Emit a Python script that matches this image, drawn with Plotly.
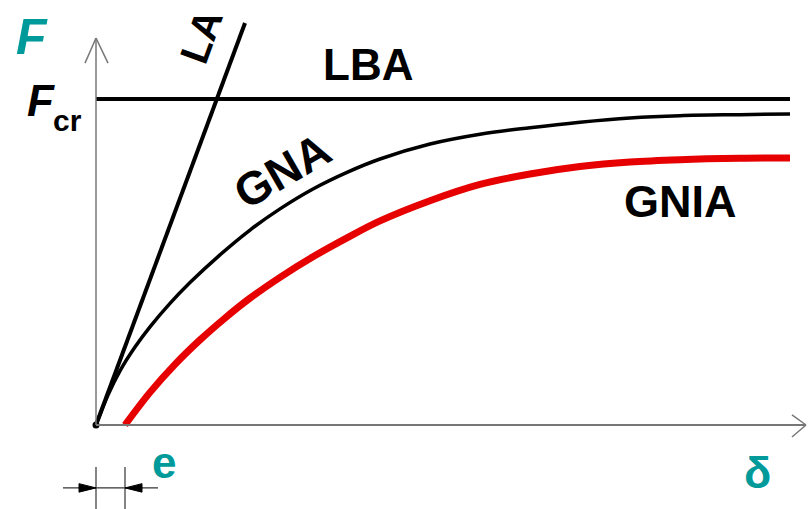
import plotly.graph_objects as go

# ---- data (delta, F/Fcr) ----
gna_x = [0.0, 0.12, 0.24, 0.39, 0.54, 0.74, 0.94, 1.24, 1.54, 1.84, 2.17, 2.51,
         2.84, 3.34, 3.84, 4.34, 4.84, 5.34, 5.84, 6.44, 6.94]
gna_y = [0.0, 0.092, 0.166, 0.239, 0.301, 0.373, 0.437, 0.522, 0.598, 0.663, 0.724, 0.775,
         0.816, 0.862, 0.892, 0.912, 0.929, 0.942, 0.949, 0.952, 0.954]

gnia_x = [0.29, 0.54, 0.79, 1.04, 1.29, 1.54, 1.84, 2.17, 2.51, 2.84, 3.34, 3.84,
          4.34, 4.84, 5.34, 5.84, 6.44, 6.94]
gnia_y = [0.0, 0.100, 0.186, 0.261, 0.328, 0.389, 0.453, 0.516, 0.574, 0.626, 0.688, 0.738,
          0.770, 0.793, 0.807, 0.814, 0.818, 0.819]

la_x = [0.0, 1.49]
la_y = [0.0, 1.233]

lba_x = [0.0, 6.94]
lba_y = [1.0, 1.0]

e_offset = 0.29

TEAL = "#009a9a"
RED = "#e60000"
FONT = "Liberation Sans, Arial, sans-serif"

fig = go.Figure()

fig.add_trace(go.Scatter(x=la_x, y=la_y, mode="lines",
                         line=dict(color="black", width=4), hoverinfo="skip"))
fig.add_trace(go.Scatter(x=lba_x, y=lba_y, mode="lines",
                         line=dict(color="black", width=4), hoverinfo="skip"))
fig.add_trace(go.Scatter(x=gna_x, y=gna_y, mode="lines",
                         line=dict(color="black", width=3.5, shape="spline", smoothing=1),
                         hoverinfo="skip"))
fig.add_trace(go.Scatter(x=gnia_x, y=gnia_y, mode="lines",
                         line=dict(color=RED, width=7, shape="spline", smoothing=1),
                         hoverinfo="skip"))
fig.add_trace(go.Scatter(x=[0], y=[0], mode="markers",
                         marker=dict(color="black", size=7), hoverinfo="skip"))

AX = "#777777"
shapes = [
    # y axis + arrow
    dict(type="line", x0=0, y0=0, x1=0, y1=1.187, line=dict(color=AX, width=1.5)),
    dict(type="line", x0=-0.11, y0=1.11, x1=0, y1=1.187, line=dict(color=AX, width=1.5)),
    dict(type="line", x0=0.12, y0=1.11, x1=0, y1=1.187, line=dict(color=AX, width=1.5)),
    # x axis + arrow
    dict(type="line", x0=0, y0=0, x1=7.10, y1=0, line=dict(color=AX, width=2)),
    dict(type="line", x0=6.96, y0=0.031, x1=7.10, y1=0, line=dict(color=AX, width=1.5)),
    dict(type="line", x0=6.96, y0=-0.037, x1=7.10, y1=0, line=dict(color=AX, width=1.5)),
    # dimension for e
    dict(type="line", x0=-0.33, y0=-0.193, x1=0.62, y1=-0.193, line=dict(color="#333333", width=1.2)),
    dict(type="line", x0=0, y0=-0.129, x1=0, y1=-0.26, line=dict(color="#333333", width=1.2)),
    dict(type="line", x0=e_offset, y0=-0.129, x1=e_offset, y1=-0.26, line=dict(color="#333333", width=1.2)),
    dict(type="path", path="M -0.17,-0.180 L 0,-0.193 L -0.17,-0.206 Z",
         fillcolor="black", line=dict(color="black", width=1)),
    dict(type="path", path=f"M {e_offset+0.17},-0.180 L {e_offset},-0.193 L {e_offset+0.17},-0.206 Z",
         fillcolor="black", line=dict(color="black", width=1)),
]

def ann(text, x, y, size, color="black", angle=0):
    return dict(text=text, x=x, y=y, xref="x", yref="y", showarrow=False,
                textangle=angle, font=dict(family=FONT, size=size, color=color),
                xanchor="center", yanchor="middle")

annotations = [
    ann("<b><i>F</i></b>", -0.64, 1.19, 50, TEAL),
    ann("<b><i>F</i></b>", -0.55, 0.995, 44),
    ann("<b>cr</b>", -0.29, 0.935, 30),
    ann("<b>LA</b>", 1.05, 1.19, 40, angle=-70),
    ann("<b>LBA</b>", 2.72, 1.105, 44),
    ann("<b>GNA</b>", 1.86, 0.78, 46, angle=-30),
    ann("<b>GNIA</b>", 5.84, 0.687, 45),
    ann("<b>e</b>", 0.68, -0.115, 44, TEAL),
    ann("<b>δ</b>", 6.61, -0.145, 45, TEAL),
]

fig.update_layout(
    width=808, height=509,
    margin=dict(l=0, r=0, t=0, b=0),
    paper_bgcolor="white", plot_bgcolor="white",
    showlegend=False,
    xaxis=dict(range=[-0.96, 7.12], visible=False, fixedrange=True),
    yaxis=dict(range=[-0.2577, 1.3037], visible=False, fixedrange=True),
    shapes=shapes,
    annotations=annotations,
)

fig.write_html("out.html", config={"displayModeBar": False},
               post_script="document.body.style.margin='0';document.body.style.overflow='hidden';")
